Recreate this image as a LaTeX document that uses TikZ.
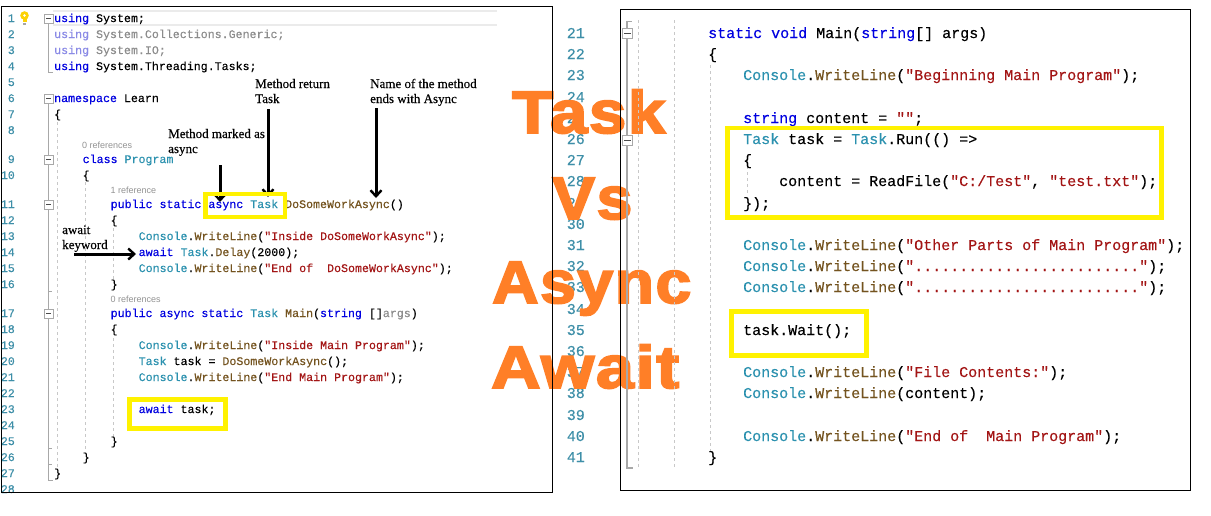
\documentclass[tikz,border=0pt]{standalone}
\usepackage{fontspec}
\usepackage{graphicx}
\usetikzlibrary{arrows.meta}
\newfontfamily\codef[FakeBold=0.25]{Liberation Mono}
\newfontfamily\sansf{Liberation Sans}
\newfontfamily\bigf[UprightFont=*-Bold,FakeBold=3,LetterSpace=2.5]{Liberation Sans}
\newfontfamily\serf[FakeBold=0.2]{Liberation Serif}
\definecolor{kwc}{HTML}{0000E0}
\definecolor{tyc}{HTML}{2B91AF}
\definecolor{stc}{HTML}{A31515}
\definecolor{mec}{HTML}{74531F}
\definecolor{fadekw}{HTML}{8A8AE6}
\definecolor{fadetx}{HTML}{8C8C8C}
\definecolor{lnc}{HTML}{3E8FA8}
\definecolor{yel}{HTML}{FFF200}
\definecolor{org}{HTML}{FF7F27}
\definecolor{gut}{HTML}{A8A8A8}
\definecolor{guide}{HTML}{C8C8C8}
\newcommand{\ckw}[1]{\textcolor{kwc}{#1}}
\newcommand{\cty}[1]{\textcolor{tyc}{#1}}
\newcommand{\cstr}[1]{\textcolor{stc}{#1}}
\newcommand{\cme}[1]{\textcolor{mec}{#1}}
\newcommand{\cwl}{\cty{Console}.\cme{WriteLine}}
\tikzset{
  x=1pt,y=-1pt,
  codeL/.style={anchor=base west,inner sep=0pt,font=\codef\fontsize{11.63}{14}\selectfont},
  codeR/.style={anchor=base west,inner sep=0pt,font=\codef\fontsize{15}{18}\selectfont},
  numL/.style={anchor=base east,inner sep=0pt,text=lnc,font=\codef\fontsize{11.63}{14}\selectfont},
  numR/.style={anchor=base east,inner sep=0pt,text=lnc,font=\codef\fontsize{15}{18}\selectfont},
  refnote/.style={anchor=base west,inner sep=0pt,text=gray!85,font=\sansf\fontsize{9}{11}\selectfont},
  note/.style={anchor=base west,inner sep=0pt,align=left,font=\serf\fontsize{13}{15}\selectfont},
  bigword/.style={anchor=base west,inner sep=0pt,text=org,font=\bigf\fontsize{60}{70}\selectfont},
  hilite/.style={draw=yel,line width=4.5pt},
  frame/.style={draw=black,line width=1pt},
  gutter/.style={draw=gut,line width=1pt},
  foldbox/.style={draw=gut,fill=white,line width=.8pt},
  indent/.style={draw=guide,line width=.8pt,dash pattern=on 3pt off 3pt},
  arr/.style={draw=black,line width=3pt,-{Straight Barb[length=6pt,width=11pt,line width=2.4pt]}},
}
\begin{document}
\begin{tikzpicture}
\path[fill=white,use as bounding box] (0,0) rectangle (1211,515);

% line numbers
\foreach \n/\y in {1/22,2/38,3/54,4/70,5/86,6/102,7/118,8/134,9/163,10/179,11/208,12/224,13/240,14/256,15/272,16/288,17/317,18/333,19/349,20/365,21/381,22/397,23/413,24/429,25/445,26/461,27/477,28/493}
  \node[numL] (nl\n) at (15,\y) {\n};
\foreach \n/\y in {21/38,22/59,23/80,24/102,25/123,26/144,27/165,28/186,29/208,30/229,31/250,32/271,33/292,34/314,35/335,36/356,37/377,38/398,39/420,40/441,41/462}
  \node[numR] (nr\n) at (585,\y) {\n};

% big title
\node[bigword] (bigtask) at (512,133) {\scalebox{1.12}[1]{Task}};
\node[bigword] (bigvs) at (552,219) {\scalebox{1.07}[1]{Vs}};
\node[bigword] (bigasync) at (492,303) {\scalebox{1.07}[1]{Async}};
\node[bigword] (bigawait) at (491,388) {\scalebox{1.14}[1]{Await}};

% frames
\draw[frame] (1,6) rectangle (552.5,492);
\draw[frame] (620.5,9.5) rectangle (1190,490);

% current line highlight
\draw[draw=black!8,line width=1.5pt] (53,11) -- (497,11);
\draw[draw=black!8,line width=1.5pt] (53,25) -- (497,25);

% left gutter
\draw[gutter] (48.5,18) -- (48.5,72) -- (53,72);
\draw[gutter] (48.5,98) -- (48.5,480) -- (53,480);
\draw[gutter] (48.5,291) -- (52,291);
\draw[gutter] (48.5,448) -- (52,448);
\draw[gutter] (48.5,464) -- (52,464);
\foreach \y in {18.5,98.5,159.5,204.5,313.5}{
  \draw[foldbox] (44,\y-4.5) rectangle (53,\y+4.5);
  \draw[draw=black!70,line width=.7pt] (46,\y) -- (51,\y);
}
% left guides
\draw[indent] (57,122) -- (57,475);
\draw[indent] (85,182) -- (85,450);
\draw[indent] (113,228) -- (113,283);
\draw[indent] (113,338) -- (113,440);

% right gutter
\draw[gutter,line width=1.2pt] (627,21) -- (627,468) -- (633,468);
\draw[gutter] (627,21) -- (632,21);
\foreach \y in {33.5,140}{
  \draw[foldbox] (622,\y-5) rectangle (632.5,\y+5);
  \draw[draw=black!70,line width=.7pt] (624,\y) -- (630.5,\y);
}
\draw[indent] (638,20) -- (638,468);
\draw[indent] (674,20) -- (674,468);
\draw[indent] (710,65) -- (710,455);
\draw[indent] (747,166) -- (747,195);

% light bulb
\fill[yellow!70!orange] (24.5,15.5) circle (4.3);
\fill[yellow!70!orange] (22.5,19) rectangle (26.5,22);
\fill[white] (24.5,15.5) circle (1.4);
\fill[black!35] (22.8,22.5) rectangle (26.2,24.5);

% left code
\node[codeL] (a1) at (54,22) {\ckw{using} System;};
\node[codeL] (a2) at (54,38) {\textcolor{fadekw}{using} \textcolor{fadetx}{System.Collections.Generic;}};
\node[codeL] (a3) at (54,54) {\textcolor{fadekw}{using} \textcolor{fadetx}{System.IO;}};
\node[codeL] (a4) at (54,70) {\ckw{using} System.Threading.Tasks;};
\node[codeL] (a6) at (54,102) {\ckw{namespace} Learn};
\node[codeL] (a7) at (54,118) {\{};
\node[refnote] (r1) at (82,148) {0 references};
\node[codeL] (a9) at (82.5,163) {\ckw{class} \cty{Program}};
\node[codeL] (a10) at (82.5,179) {\{};
\node[refnote] (r2) at (110.5,193) {1 reference};
\node[codeL] (a11) at (110.5,208) {\ckw{public static async} \cty{Task} \cme{DoSomeWorkAsync}()};
\node[codeL] (a12) at (110.5,224) {\{};
\node[codeL] (a13) at (138.5,240) {\cwl(\cstr{"Inside DoSomeWorkAsync"});};
\node[codeL] (a14) at (138.5,256) {\ckw{await} \cty{Task}.\cme{Delay}(2000);};
\node[codeL] (a15) at (138.5,272) {\cwl(\cstr{"End of\ \ DoSomeWorkAsync"});};
\node[codeL] (a16) at (110.5,288) {\}};
\node[refnote] (r3) at (110.5,302) {0 references};
\node[codeL] (a17) at (110.5,317) {\ckw{public async static} \cty{Task} \cme{Main}(\ckw{string} []\textcolor{fadetx}{args})};
\node[codeL] (a18) at (110.5,333) {\{};
\node[codeL] (a19) at (138.5,349) {\cwl(\cstr{"Inside Main Program"});};
\node[codeL] (a20) at (138.5,365) {\cty{Task} task = \cme{DoSomeWorkAsync}();};
\node[codeL] (a21) at (138.5,381) {\cwl(\cstr{"End Main Program"});};
\node[codeL] (a23) at (138.5,413) {\ckw{await} task;};
\node[codeL] (a25) at (110.5,445) {\}};
\node[codeL] (a26) at (82.5,461) {\}};
\node[codeL] (a27) at (54,477) {\}};

% right code
\node[codeR] (b21) at (708,38) {\ckw{static void} Main(\ckw{string}[] args)};
\node[codeR] (b22) at (708,59) {\{};
\node[codeR] (b23) at (743,80) {\cwl(\cstr{"Beginning Main Program"});};
\node[codeR] (b25) at (743,123) {\ckw{string} content = \cstr{""};};
\node[codeR] (b26) at (743,144) {\cty{Task} task = \cty{Task}.Run(() =>};
\node[codeR] (b27) at (743,165) {\{};
\node[codeR] (b28) at (779,186) {content = ReadFile(\cstr{"C:/Test"}, \cstr{"test.txt"});};
\node[codeR] (b29) at (743,208) {\});};
\node[codeR] (b31) at (743,250) {\cwl(\cstr{"Other Parts of Main Program"});};
\node[codeR] (b32) at (743,271) {\cwl(\cstr{"........................."});};
\node[codeR] (b33) at (743,292) {\cwl(\cstr{"........................."});};
\node[codeR] (b35) at (743,335) {task.Wait();};
\node[codeR] (b37) at (743,377) {\cwl(\cstr{"File Contents:"});};
\node[codeR] (b38) at (743,398) {\cwl(content);};
\node[codeR] (b40) at (743,441) {\cwl(\cstr{"End of\ \ Main Program"});};
\node[codeR] (b41) at (708,462) {\}};

% annotations
\node[note] (n1) at (168,138) {Method marked as};
\node[note] (n1b) at (168,153) {async};
\node[note] (n2) at (255,88) {Method return};
\node[note] (n2b) at (255,103) {Task};
\node[note] (n3) at (370,88) {Name of the method};
\node[note] (n3b) at (370,103) {ends with Async};
\node[note] (n4) at (62,234) {await};
\node[note] (n4b) at (62,249) {keyword};

% arrows
\coordinate (t1s) at (220,165);
\coordinate (t1e) at (220,202);
\coordinate (t2s) at (268,109);
\coordinate (t2e) at (268,197);
\coordinate (t3s) at (376,108);
\coordinate (t3e) at (376,198);
\coordinate (t4s) at (74,254);
\coordinate (t4e) at (136,254);
\draw[arr] (t1s) -- (t1e);
\draw[arr] (t2s) -- (t2e);
\draw[arr] (t3s) -- (t3e);
\draw[arr] (t4s) -- (t4e);

% yellow boxes
\draw[hilite] (205.5,194) rectangle (285,217);
\draw[hilite] (129.5,399.5) rectangle (225.5,428.5);
\draw[hilite] (727.5,128) rectangle (1161.5,217.5);
\draw[hilite] (731.5,311.5) rectangle (866.5,355.5);
\end{tikzpicture}
\end{document}
